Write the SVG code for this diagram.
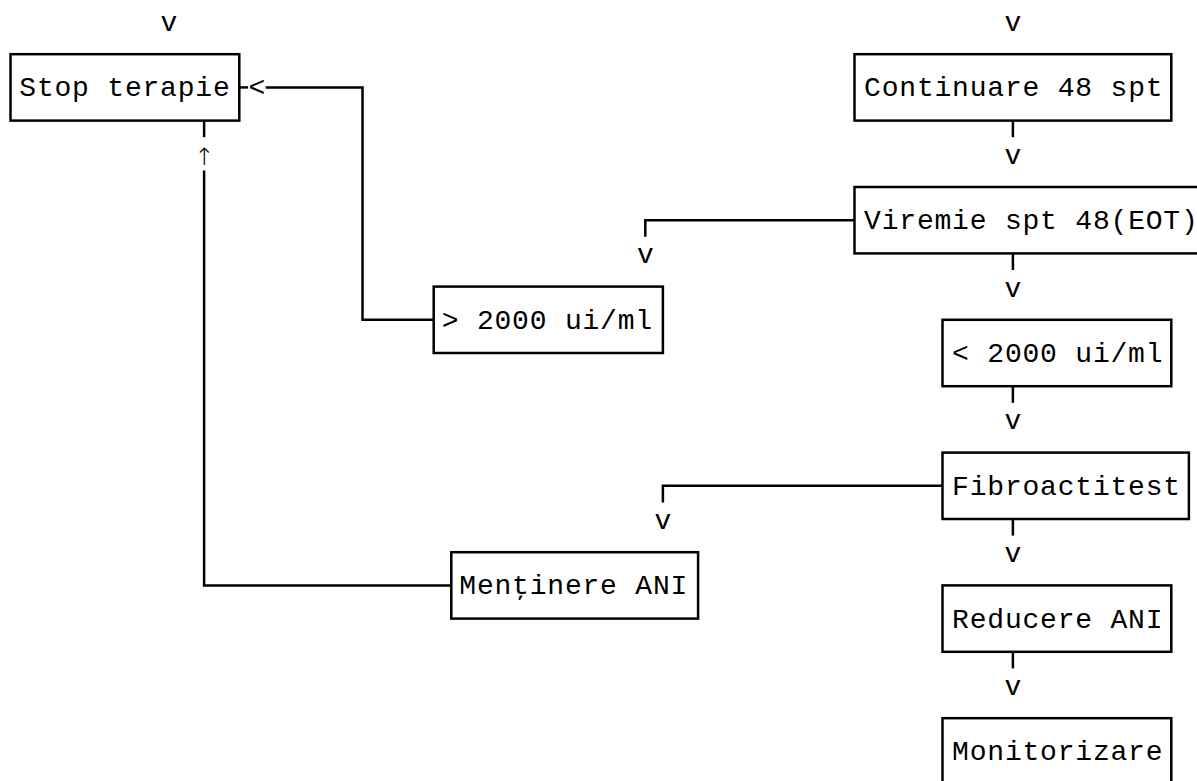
<svg xmlns="http://www.w3.org/2000/svg" width="1197" height="781" viewBox="0 0 1197 781">
<style>
  .bg { fill: #ffffff; }
  .box { fill: none; stroke: #000; stroke-width: 2.5; }
  .ln { fill: none; stroke: #000; stroke-width: 2.5; }
  .t { font-family: "Liberation Mono", "DejaVu Sans Mono", monospace; font-size: 28px; letter-spacing: 0.8px; fill: #000; }
  .c { text-anchor: middle; letter-spacing: 0; }
  .up { font-family: "DejaVu Sans", "Liberation Sans", sans-serif; font-size: 24px; font-weight: 300; }
</style>
<rect class="bg" x="0" y="0" width="1197" height="781"/>

<g id="connectors">
  <path class="ln" d="M239.3 87.4 H248.1"/>
  <text class="t c" x="256.9" y="96.4">&lt;</text>
  <path class="ln" d="M265.7 87.4 H362.5 V319.8 H433.7"/>
  <path class="ln" d="M204.1 120.6 V137.2"/>
  <text class="t c up" x="204.1" y="165">↑</text>
  <path class="ln" d="M204.1 170.4 V585.4 H451.3"/>
  <text class="t c" x="168.9" y="31">v</text>
  <text class="t c" x="1012.9" y="31">v</text>
  <path class="ln" d="M1012.9 120.6 V137.2"/>
  <text class="t c" x="1012.9" y="163.8">v</text>
  <path class="ln" d="M854.5 220.2 H645.3 V236.8"/>
  <text class="t c" x="645.3" y="263.4">v</text>
  <path class="ln" d="M1012.9 253.4 V270"/>
  <text class="t c" x="1012.9" y="296.6">v</text>
  <path class="ln" d="M1012.9 386.2 V402.8"/>
  <text class="t c" x="1012.9" y="429.4">v</text>
  <path class="ln" d="M942.5 485.8 H662.9 V502.4"/>
  <text class="t c" x="662.9" y="529">v</text>
  <path class="ln" d="M1012.9 519 V535.6"/>
  <text class="t c" x="1012.9" y="562.2">v</text>
  <path class="ln" d="M1012.9 651.8 V668.4"/>
  <text class="t c" x="1012.9" y="695">v</text>
</g>

<g id="stop-terapie">
  <rect class="box" x="10.5" y="54.2" width="228.8" height="66.4"/>
  <text class="t" x="19.3" y="96.4">Stop terapie</text>
</g>
<g id="continuare">
  <rect class="box" x="854.5" y="54.2" width="316.8" height="66.4"/>
  <text class="t" x="864.1" y="96.4">Continuare 48 spt</text>
</g>
<g id="viremie">
  <rect class="box" x="854.5" y="187" width="352" height="66.4"/>
  <text class="t" x="864.1" y="229.2">Viremie spt 48(EOT)</text>
</g>
<g id="peste-2000">
  <rect class="box" x="433.7" y="286.6" width="229.2" height="66.4"/>
  <text class="t" x="441.7" y="328.8">&gt; 2000 ui/ml</text>
</g>
<g id="sub-2000">
  <rect class="box" x="942.5" y="319.8" width="228.8" height="66.4"/>
  <text class="t" x="952.1" y="362">&lt; 2000 ui/ml</text>
</g>
<g id="fibroactitest">
  <rect class="box" x="942.5" y="452.6" width="246.4" height="66.4"/>
  <text class="t" x="952.1" y="494.8">Fibroactitest</text>
</g>
<g id="mentinere-ani">
  <rect class="box" x="451.3" y="552.2" width="246.8" height="66.4"/>
  <text class="t" x="459.3" y="594.4">Menţinere ANI</text>
</g>
<g id="reducere-ani">
  <rect class="box" x="942.5" y="585.4" width="228.8" height="66.4"/>
  <text class="t" x="952.1" y="627.6">Reducere ANI</text>
</g>
<g id="monitorizare">
  <rect class="box" x="942.5" y="718.2" width="228.8" height="66.4"/>
  <text class="t" x="952.1" y="760.4">Monitorizare</text>
</g>
</svg>
